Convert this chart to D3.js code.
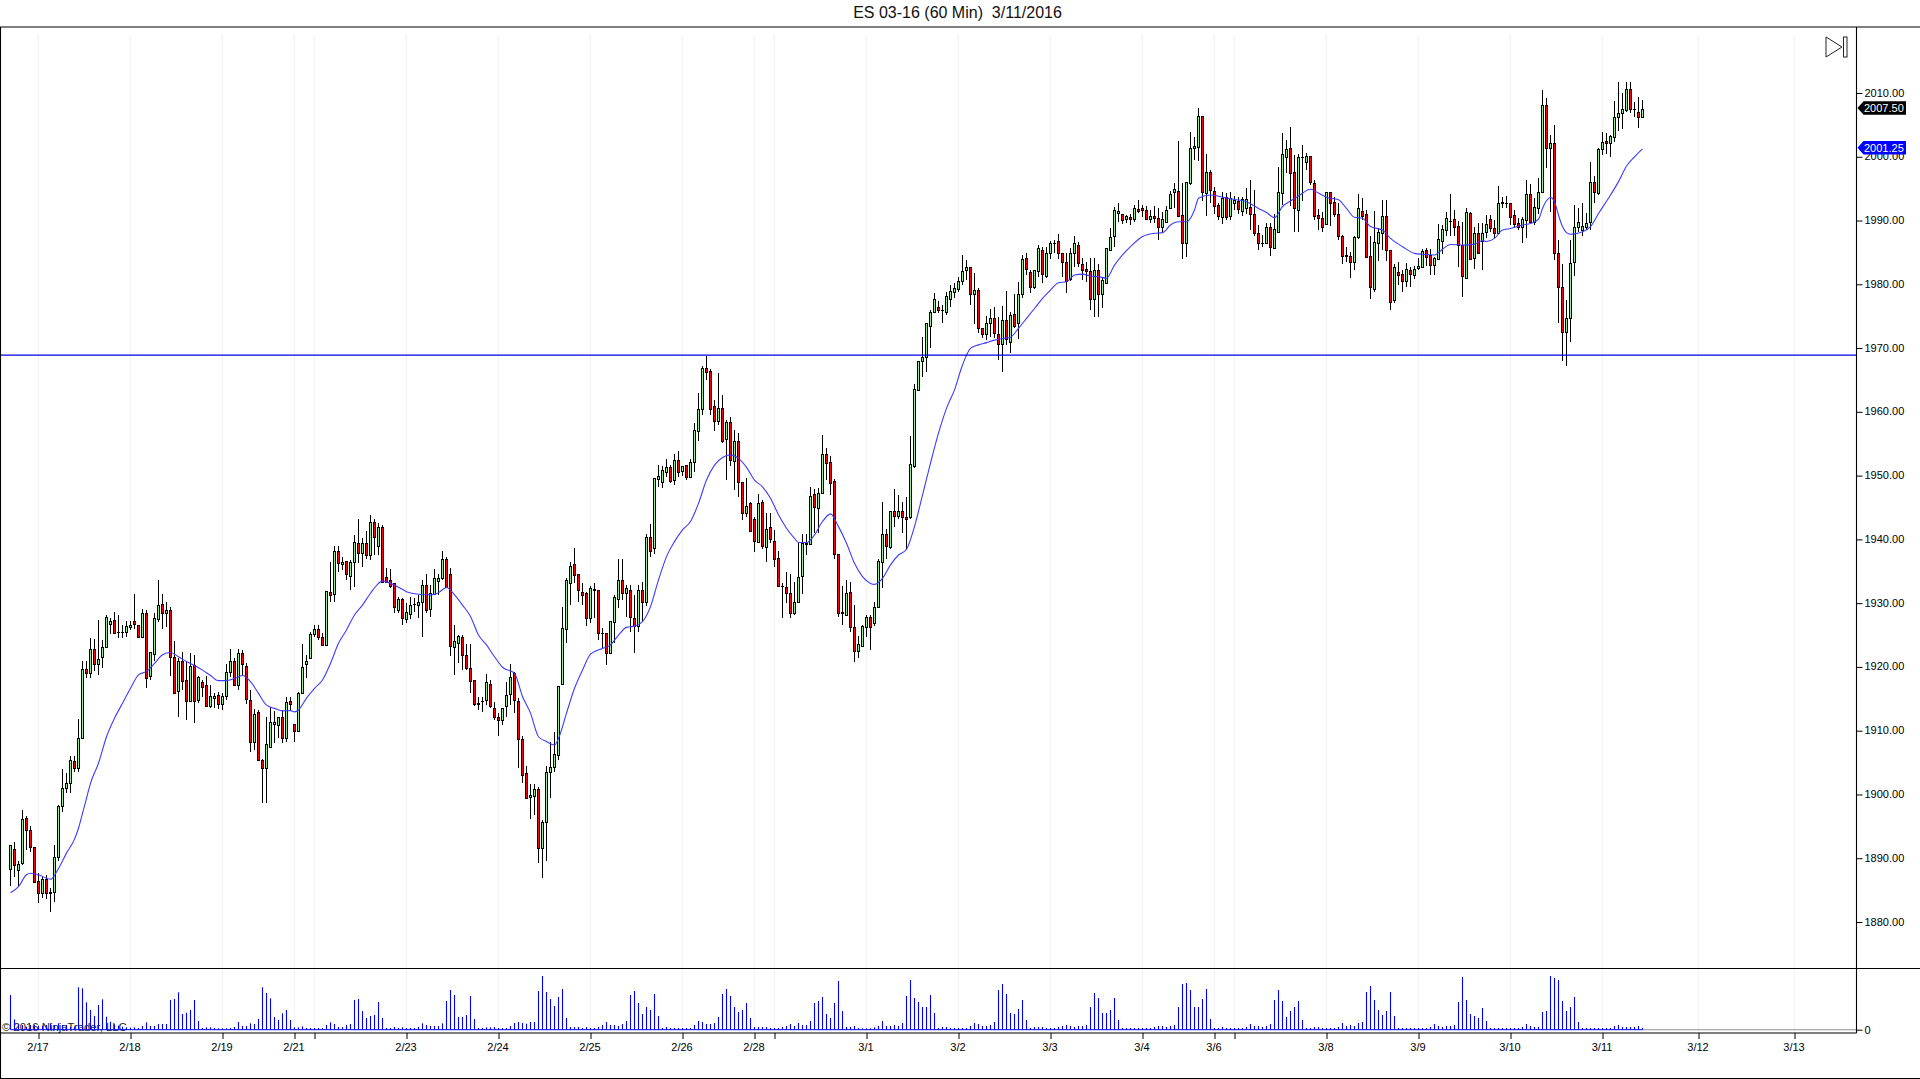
<!DOCTYPE html>
<html><head><meta charset="utf-8">
<script src="https://cdn.jsdelivr.net/npm/d3@7/dist/d3.min.js"></script>
<style>
html,body{margin:0;padding:0;background:#fff;overflow:hidden}
svg{display:block}
text{font-family:"Liberation Sans",Arial,sans-serif;fill:#000}
</style></head><body><div id="c"></div>
<script>
const titleText = "ES 03-16 (60 Min)\u00a0\u00a03/11/2016";
const copyrightText = "\u00a9 2016 NinjaTrader, LLC";
const open = [
1888.25,1891.5,1888.2,1889.2,1896.25,1894.5,1891.8,1886.5,1884.5,1886.8,
1884.5,1884.75,1890.25,1898.25,1901,1901.75,1905.25,1904.1,1908.8,1919.6,
1919.1,1922.75,1920.4,1921.5,1923.1,1926.8,1927.4,1925.5,1925.5,1925.5,
1926.3,1927.2,1926.6,1924.75,1928.4,1918.5,1922.1,1927.5,1929.8,1928.4,
1928.9,1921.5,1916.3,1921,1918,1914.65,1920.3,1914.8,1917.6,1917.1,
1913.8,1915.1,1915.55,1914.15,1915.45,1919.25,1920.9,1917.15,1922.15,1920.15,
1914.8,1908.3,1912.95,1905.4,1904.1,1907.5,1911,1910.9,1912.1,1908.8,
1914.65,1911,1910,1915.85,1920.4,1921.35,1925.15,1925.9,1924.65,1923.45,
1931.8,1931.5,1938.25,1936.15,1936.6,1934.25,1936.4,1939.5,1937.8,1939.5,
1937.55,1942.8,1939,1941.9,1934.05,1933.65,1933.1,1928.95,1930.6,1927.5,
1928.3,1929.8,1929.75,1930.25,1932.85,1929.05,1931.45,1933.5,1933.9,1936.9,
1934.5,1923.2,1923.7,1924.75,1921.85,1919.8,1917.95,1914.4,1914.65,1914.8,
1917.3,1913.5,1912.1,1911.6,1913.8,1915.75,1919.1,1914.65,1908.65,1903.3,
1899.55,1899.75,1900.8,1891.55,1895.75,1903.6,1904.25,1906.2,1917.25,1925.9,
1933.1,1936.1,1934.6,1931.8,1931.55,1927.6,1932.2,1932,1925.3,1925.3,
1922.15,1927.1,1930.65,1933.65,1931.55,1932,1927.6,1926.4,1932.05,1930.25,
1940.3,1938.6,1949.4,1949.05,1950.6,1951.4,1949.3,1952.45,1950.8,1951.65,
1949.85,1952.1,1957.05,1960.4,1966.85,1966.4,1960.9,1958.55,1960.55,1955.75,
1958.35,1952.35,1955.35,1949.05,1944.1,1945.65,1943.15,1939.65,1945.8,1938.85,
1941.9,1939.8,1937.05,1932.7,1932.6,1931.55,1928.5,1930.25,1934.25,1939.25,
1939.25,1947.1,1944.9,1947.35,1953.35,1952.1,1949.15,1937.65,1928.6,1928.15,
1931.8,1926.3,1922.55,1923.35,1926.3,1927.8,1926.85,1929.35,1936.4,1940.8,
1938.75,1944.5,1943.65,1944.5,1943.55,1943.55,1951.5,1963.45,1967.9,1968.6,
1973.5,1975.6,1976.4,1975.95,1975.6,1977.7,1978.85,1979.25,1980.55,1982.25,
1982.75,1978.4,1979.05,1973.1,1972.15,1973.9,1974.65,1972.15,1970.6,1974.4,
1971,1975.35,1973.9,1978.5,1984.1,1982,1979.65,1982.1,1985.3,1981.35,
1984.95,1986.4,1986.85,1984.85,1983.55,1980.8,1984.85,1986.15,1983.2,1982.35,
1982.15,1977.7,1982.25,1978.5,1980.25,1985.3,1987.6,1991.25,1991.1,1990.2,
1990.5,1990.2,1991.8,1992,1991.65,1990.2,1990.7,1990.45,1989,1989.8,
1991.9,1994.4,1994.6,1990.8,1986.55,1995.85,2001.3,2001.5,2006.4,1994.25,
1997.55,1994.65,1992.45,1990.6,1993.75,1990.7,1992.8,1993,1991.55,1991.9,
1992.05,1991.1,1988.1,1986.55,1986.55,1988.95,1985.75,1988.25,1994.25,1999.95,
2001.3,1997.55,1991.65,1999.9,1999.1,2000.1,1995.85,1990.85,1990.35,1989.4,
1994.55,1992.85,1991.1,1987.65,1984.6,1984.45,1983.55,1987.35,1991.55,1991.1,
1984.45,1979.3,1986.55,1988,1990.7,1985.3,1977.55,1981.9,1981.6,1980.55,
1982.25,1981.45,1982.5,1982.75,1985.3,1984.6,1983.05,1983.9,1986.85,1988.5,
1990,1990.2,1989.15,1986.15,1981.05,1991.15,1984.1,1988.1,1986.85,1988.15,
1990.2,1988.9,1988.1,1992.8,1992.75,1992.7,1990.85,1989.55,1989.05,1990.1,
1994.1,1989.8,1992,1994.4,2008.05,2001.3,2002.1,1984.85,1979.6,1972.55,
1974.65,1983.55,1989.05,1988.5,1989,1989.8,1996.1,1994.35,2001.15,2002.45,
2002.1,2003.15,2006.3,2006.8,2007.3,2010.55,2007.45,2007.05,2006.3];
const high = [
1892,1892.5,1889.5,1897.5,1896.7,1895,1891.8,1887.7,1887.1,1887.4,
1885.3,1892,1898.3,1904,1903.3,1906,1906,1911.8,1920.9,1920.9,
1924.6,1924.3,1927.4,1924.2,1928.1,1927.6,1928.6,1928.1,1926.5,1927.25,
1927.25,1931.5,1926.6,1929.1,1928.9,1922.3,1928.5,1933.6,1931.5,1930.2,
1929.35,1924,1921.35,1922.4,1921,1922.25,1921.9,1918.6,1918,1918.5,
1917.2,1915.85,1916,1915.85,1920.5,1922.8,1921.35,1922.75,1922.65,1920.55,
1916.4,1913.35,1913.25,1905.6,1912.1,1913.7,1913.15,1912.2,1913.25,1915.35,
1915.35,1911,1916.1,1923.6,1921.85,1925.5,1926.5,1926.5,1925.3,1931.95,
1936.5,1938.9,1938.9,1937.3,1936.6,1936.75,1940.7,1943.2,1940.2,1941.35,
1943.85,1943.15,1942.5,1942.25,1935.5,1935.35,1933.1,1931,1930.75,1930,
1930.9,1930.75,1931.3,1933.65,1934.6,1932.85,1935.3,1934.6,1938.1,1937.3,
1935.45,1926.5,1925,1925,1923.6,1923.6,1917.95,1915.35,1915.35,1918.9,
1918,1914.55,1912.75,1913.5,1917.7,1920.5,1919.25,1915.1,1909.1,1904.5,
1901.6,1901.65,1901.2,1896,1904.5,1908.3,1909.85,1917.05,1929.35,1933.9,
1936.5,1938.6,1934.6,1933.1,1931.8,1932.75,1933.1,1932,1926.05,1925.3,
1927.25,1931.3,1936.9,1936.9,1932.85,1932.85,1931.3,1932.85,1933.35,1940.85,
1942.4,1949.6,1951.65,1951.5,1952.6,1951.65,1953.35,1953.85,1951.55,1951.65,
1952.55,1958.2,1962.9,1967.2,1968.8,1966.7,1961.85,1966.05,1962.65,1958.7,
1959.15,1957.15,1956.65,1949.05,1949.6,1945.9,1943.55,1947.1,1946.2,1944.1,
1944.1,1941.5,1938.2,1933.2,1934.85,1934.6,1933.35,1939.4,1940.85,1940.85,
1948.15,1947.9,1948.1,1956.35,1954.3,1953,1949.45,1937.65,1932.7,1933.65,
1933.3,1929.75,1924.85,1926.6,1928.15,1928.15,1930.15,1936.9,1945.8,1941.6,
1944.5,1947.9,1947,1945.8,1946.6,1956.2,1964.3,1967.95,1971.7,1973.9,
1976,1978.6,1977.4,1976.75,1978.85,1979.9,1980.15,1981.2,1984.6,1983.8,
1982.75,1981.7,1979.35,1973.1,1975,1976.1,1976.4,1974.9,1976.6,1978.95,
1975.7,1978.5,1980.4,1984.6,1984.85,1982.25,1982.25,1986.15,1985.8,1985.9,
1986.85,1987,1987.9,1984.85,1984.85,1985.65,1987.5,1986.7,1984.1,1983.55,
1984.1,1984.1,1983.2,1981.2,1985.65,1988.9,1992.05,1992.7,1991.1,1990.85,
1991.1,1992.45,1993.2,1992.45,1992.2,1991.65,1992.2,1991.9,1991.4,1992.3,
1994.6,1995.85,2002.5,1995.85,1996.1,2003.9,2003.15,2007.6,2006.4,2000.5,
1997.9,1995.3,1992.7,1994.55,1994.3,1994.55,1993.85,1993.75,1993.75,1995.05,
1996.35,1994.8,1989.3,1987.7,1989.55,1989.65,1991.1,1998.35,2003.8,2002.65,
2004.6,2000.3,2000.4,2001.85,2000.55,2000.1,1996.35,1991.75,1991.4,1994.55,
1994.55,1993.75,1992.7,1987.75,1985.9,1985.1,1987.5,1994.1,1993.5,1991.65,
1987.5,1991.55,1988.75,1993.2,1993.2,1985.4,1983.2,1983.55,1982.25,1983.3,
1982.75,1982.85,1984.2,1985.5,1985.65,1985.5,1984.35,1989.4,1989.3,1991.4,
1994.15,1991.65,1989.95,1989.8,1992,1991.4,1989.05,1989.55,1989.55,1990.85,
1990.85,1990.1,1995.4,1993.65,1993.85,1992.8,1991.65,1990.35,1990.6,1996.35,
1995.65,1993.5,1996.6,2010.5,2009.15,2003.4,2005,1986.95,1983.2,1977.6,
1986.95,1992.45,1991.9,1992.7,1991.25,1999.1,1997,2001.3,2003.95,2003.65,
2003.4,2008.8,2011.65,2009.95,2011.65,2011.65,2008.65,2009.3,2008.9];
const low = [
1885.7,1887,1885.5,1889,1891.3,1891,1886.3,1883,1883.7,1883.6,
1881.5,1883.2,1889.5,1897.3,1900.3,1900.3,1903.6,1903.6,1908.8,1918.3,
1918.3,1919.3,1918.75,1919.9,1923,1925.2,1925.3,1924.6,1924.6,1924.75,
1925.8,1926,1924.75,1924.75,1916.75,1918,1921,1927.1,1926,1926.2,
1918.5,1915.9,1912.2,1916.4,1911.6,1914.65,1911.25,1914.3,1915.35,1913.8,
1913.5,1913.5,1913.35,1913.25,1914.8,1918.45,1917.15,1916.4,1918.5,1914.2,
1906.6,1907,1905.4,1898.7,1898.6,1907.5,1908,1908.8,1908,1908.3,
1913.25,1908.3,1909.75,1915.85,1918.2,1921.2,1924.75,1924.25,1923.35,1923.35,
1930.25,1930.25,1934.95,1935.2,1933.6,1932,1932.5,1936.25,1935.7,1937,
1936.75,1937.55,1937.55,1933.35,1933.1,1932.3,1928.4,1928.4,1926.5,1926.85,
1927.5,1928.65,1927.6,1924.65,1928.4,1927.8,1931.3,1931.3,1933.65,1932.3,
1921.7,1918.75,1920.55,1919.5,1919.5,1915.85,1913.8,1913.25,1913,1914,
1913.5,1911.6,1909.2,1910.9,1912.2,1914,1912.7,1904.1,1901.75,1899.5,
1896.1,1896.8,1889.3,1886.85,1889.5,1899.5,1903.6,1905.4,1917.25,1923.7,
1929.7,1933.1,1930.25,1929.7,1926.4,1926.85,1927.6,1924.25,1923,1920.3,
1922,1923.7,1929.3,1930.5,1927.9,1925.5,1922.15,1925.5,1927.1,1929.6,
1937.3,1937.7,1948.15,1948.1,1949.85,1948.8,1948.5,1949.85,1950,1949.3,
1949.55,1950.6,1955.45,1959.5,1965,1959.5,1957.05,1957.95,1955.05,1949.3,
1951.5,1947.75,1946.6,1943.05,1943.55,1941.35,1938.05,1939.4,1938.45,1936.5,
1939.4,1935.7,1932.6,1927.7,1930,1927.7,1928.15,1930.25,1931.4,1937.55,
1939.25,1941,1941.05,1947.1,1949.3,1947,1936.9,1927.8,1926.5,1928,
1925.5,1920.8,1921.35,1923.2,1924.75,1922.65,1926.45,1929.2,1932.35,1937,
1938.45,1942,1943.15,1941.05,1938.35,1943.2,1951.25,1963.3,1965.4,1966.3,
1970.05,1975.45,1975.45,1974,1975.2,1976.5,1977.8,1978.85,1979.9,1980.7,
1976.75,1973.8,1972.3,1971.5,1971.25,1971.8,1971.5,1968.1,1966.3,1970.5,
1969.3,1973.1,1971.4,1977.8,1981.5,1978.6,1979.25,1981.2,1980.25,1980.95,
1983.9,1984.85,1983.9,1981.2,1978.6,1980.55,1982.75,1982.75,1980.65,1980.4,
1976,1974.8,1974.8,1976.35,1980.25,1985.3,1985.8,1989.8,1989.45,1989.55,
1989.3,1989.8,1991.2,1990.6,1990.05,1989.55,1989.55,1986.95,1988,1989.55,
1991.75,1991.9,1990.5,1984,1984.35,1995.6,1999.5,1999.4,1993,1990.7,
1992.7,1991.1,1990.1,1989.45,1990.1,1990.1,1991.65,1991.1,1990.7,1991,
1988.5,1987.65,1985.3,1985.9,1986.3,1984.5,1985.65,1988.25,1992.45,1997.4,
1992.2,1988.25,1988.25,1993,1998,1995.6,1990.1,1988.5,1988.25,1989.3,
1989.15,1990.5,1987,1983.15,1983.55,1980.95,1982.25,1987.05,1990.1,1984.35,
1977.65,1978.85,1983.7,1985.4,1983.7,1976,1977,1979.9,1978.85,1979.65,
1979.65,1980.8,1982.25,1982.75,1982.9,1981.45,1981.45,1983.8,1984.75,1987.55,
1987.6,1987.55,1982.75,1978.05,1980.95,1983.8,1982.35,1984.85,1982.25,1987.2,
1988.25,1987.2,1988.1,1991.9,1991.9,1989.3,1988.75,1988.5,1986.4,1987.2,
1989.55,1989.3,1991.1,1994.25,1998.2,1991.3,1983.8,1973.9,1968,1967.25,
1971,1981.35,1988.25,1987.55,1988.5,1988.5,1992.7,1994,2000.25,2000.5,
1999.95,2002.35,2004.1,2004.3,2007.05,2006.8,2006.2,2004.55,2006.2];
const close = [
1892,1889,1889.1,1896.1,1894.5,1891.8,1886.3,1884.5,1886.8,1884.5,
1884.75,1890.25,1898.25,1901,1901.75,1905.4,1904.1,1908.8,1919.6,1919.1,
1922.75,1920.4,1921.3,1923.1,1927.8,1927.25,1925.3,1925.5,1925.5,1926.4,
1926.6,1926.75,1924.75,1928.4,1918.3,1922.3,1927.6,1929.65,1928.5,1928.9,
1921.5,1915.9,1921,1917.85,1914.6,1920.15,1914.6,1918.35,1916.8,1913.8,
1915.45,1915.45,1914.15,1915.45,1919.25,1920.9,1917.15,1922.25,1920.4,1915,
1908.3,1912.6,1905.4,1904.1,1907.9,1911.3,1911.3,1912.2,1908.8,1914.55,
1914.2,1910,1915.85,1920,1921,1925.1,1925.9,1924.75,1923.45,1931.95,
1931.3,1938.2,1936.35,1936.5,1934.5,1936.4,1939.55,1937.8,1939.4,1937.55,
1942.8,1940.45,1941.9,1933.35,1933.25,1932.7,1929.35,1930.6,1927.6,1928.55,
1929.65,1929.8,1930.2,1932.85,1928.95,1931.55,1933.9,1933.9,1937,1932.6,
1923.35,1924,1924.85,1921.8,1919.8,1917.85,1914.2,1914.2,1914.65,1917.6,
1913.8,1912.1,1911.6,1913.5,1915.6,1918.35,1914.8,1908.65,1903,1899.5,
1899.9,1900.8,1891.55,1895.65,1903.6,1904.25,1906.3,1917.05,1926.05,1933.65,
1935.85,1934.4,1932,1931.3,1927.6,1932.3,1932,1925.3,1925.3,1922.25,
1927.25,1930.9,1933.65,1931.55,1932.3,1927.9,1926.4,1932.1,1930.25,1940.3,
1938.25,1949.6,1949.95,1950.9,1951.3,1949.2,1952.45,1950.6,1951.55,1949.85,
1952.1,1957.15,1960.4,1966.85,1966.3,1960.45,1958.55,1960.55,1955.5,1958.35,
1952.45,1955.35,1949.05,1944.1,1945.3,1941.35,1939.8,1945.65,1939,1941.6,
1940.05,1936.9,1932.7,1932.7,1931.55,1928.4,1930.25,1934.05,1939.4,1939.5,
1946.85,1945,1947.35,1953.35,1952.05,1948.8,1937.65,1928.4,1928.4,1931.55,
1926.3,1922.55,1923.55,1926.45,1927.8,1926.3,1929.35,1936.6,1940.8,1939,
1944.5,1943.65,1944.5,1943.55,1943.25,1951.75,1963.55,1967.95,1968.6,1973.9,
1975.6,1977.65,1975.9,1975.95,1978.15,1978.95,1979.35,1980.55,1982.15,1982.75,
1978.4,1979.1,1973.1,1972.15,1973.9,1974.65,1972.3,1970.6,1974.4,1971.4,
1975.2,1973.5,1978.5,1983.9,1982.35,1979.65,1982.25,1985.65,1981.6,1984.95,
1986.55,1986.55,1984.85,1983.55,1980.55,1984.85,1986.4,1983.3,1982.25,1982.15,
1977.7,1982.25,1978.5,1980.65,1985.65,1987.35,1991.65,1991.55,1990.05,1990.7,
1990.2,1991.95,1991.55,1991.65,1990.25,1990.7,1990.35,1988.95,1990.2,1991.65,
1994.15,1994.9,1990.7,1986.55,1996.1,2001.3,2001.7,2006.4,1994.4,1997.55,
1994.8,1992.3,1990.75,1993.6,1990.6,1993.6,1993.2,1991.75,1993.35,1993.35,
1991.1,1988.1,1986.4,1986.55,1988.95,1985.8,1988.6,1994.4,2000.4,2001.15,
1997.5,1991.9,1999.9,1999.9,2000.1,1996.1,1990.7,1990.35,1989.05,1994.4,
1992.8,1991.1,1987.65,1984.5,1984.4,1983.55,1987.35,1991.9,1990.7,1984.35,
1979.65,1986.6,1988.15,1990.7,1985.3,1977.3,1982.75,1981.5,1980.55,1982.35,
1981.55,1982.35,1982.85,1985.15,1984.35,1983.05,1984.1,1987.05,1988.6,1990.35,
1989.85,1989.05,1986.15,1981.35,1991.4,1983.9,1988.1,1984.95,1988.1,1989.4,
1988.9,1988.1,1992.7,1992.95,1992.75,1990.6,1989.4,1989.05,1990.2,1994.1,
1989.8,1992.05,1994.5,2008.05,2001.3,2002.1,1984.85,1979.6,1972.55,1974.65,
1983.3,1989.05,1989.8,1989.15,1989.55,1996.1,1994.5,2001.15,2002.35,2002.1,
2003.25,2006.3,2006.8,2007.45,2010.55,2007.5,2007.45,2006.3,2007.5];
const volume = [
104,31,16,14,9,14,14,12,12,14,
19,14,19,14,14,9,9,127,124,82,
59,41,74,91,39,24,16,12,9,7,
6,7,5,11,22,11,11,17,17,17,
89,92,112,47,51,59,89,26,5,7,
7,5,4,4,4,5,8,23,11,11,
19,17,32,127,110,94,38,29,49,59,
29,7,7,10,5,5,5,5,5,14,
22,17,8,8,14,17,89,92,56,35,
41,44,83,35,5,5,8,5,7,5,
5,5,8,19,14,11,11,11,19,86,
119,104,38,38,44,101,32,5,5,7,
7,8,5,5,5,11,20,23,20,18,
23,23,116,161,113,92,71,98,122,35,
8,8,8,5,8,5,5,8,14,23,
14,14,11,17,26,104,116,80,47,68,
59,107,41,5,8,5,5,5,5,5,
5,14,26,23,17,17,20,38,107,122,
101,68,53,59,80,35,8,8,8,8,
5,5,5,8,11,17,11,20,14,14,
26,80,86,98,47,35,80,146,56,8,
8,11,5,4,4,4,7,11,26,11,
11,14,11,20,101,149,95,83,68,68,
104,50,5,8,8,5,5,5,5,5,
11,20,17,11,11,14,23,119,137,107,
50,47,62,89,29,5,8,8,8,5,
5,5,8,11,14,11,8,11,11,14,
68,110,95,50,50,59,95,29,5,5,
5,5,5,5,5,5,8,11,11,8,
11,14,68,137,140,119,68,68,92,122,
32,5,5,8,5,5,5,5,5,8,
17,11,11,8,11,17,89,119,86,38,
56,68,86,29,5,5,8,8,5,5,
5,5,8,20,11,14,11,20,23,113,
131,89,59,44,56,113,41,5,5,5,
5,5,5,5,5,8,17,11,8,11,
11,14,83,158,89,47,41,35,65,26,
5,5,5,5,5,5,5,5,8,17,
11,8,8,53,56,161,155,149,86,56,
68,98,23,5,5,5,5,5,5,5,
5,11,14,8,8,8,8,11,5];
const avgBar = [0,2,4,5,7,10,12,14,16,17,18,19,20,22,24,26,28,30,32,34,36,38,40,42,44,46,48,50,52,54,56,58,60,62,64,66,68,70,71,72,74,76,78,80,82,84,86,88,90,92,93,95,97,99,102,105,107,109,111,113,115,117,119,121,123,126,128,130,132,134,136,137,139,141,143,145,148,150,152,154,156,158,160,162,164,166,168,170,172,174,176,178,180,182,184,186,188,190,192,194,196,197,199,201,203,205,207,209,211,213,215,216,218,220,222,224,226,228,230,232,234,236,238,240,242,244,246,248,250,252,254,256,258,260,262,264,266,268,270,272,274,276,278,280,283,286,288,290,292,294,296,297,300,303,306,309,312,314,316,318,320,322,325,327,329,332,334,336,338,340,343,345,348,351,353,356,358,360,363,366,368,369,371,373,375,378,380,382,383,384,385,386,387,388,389,390,391,393,395,397,400,402,404,406,408];
const avgVal = [1884.6,1885.55,1887.4,1887.65,1887.4,1886.7,1888.4,1890.8,1893,1894.7,1897.05,1899.4,1901.75,1904.9,1909.05,1911.95,1914.3,1916.65,1918.75,1919.3,1920.55,1921.9,1922.25,1921.6,1920.85,1920.2,1919.5,1918.65,1917.85,1917.85,1918.2,1918.65,1917.7,1915.85,1914,1913.5,1913.1,1913.15,1912.95,1913.25,1915.1,1916.65,1917.95,1920.55,1923.7,1925.8,1928.15,1929.7,1931.55,1933.1,1933.5,1933.1,1932.5,1931.8,1931.4,1931.3,1931.65,1932.45,1931.3,1929.7,1927.9,1925,1923.45,1921.6,1919.95,1919,1915.35,1912.75,1909.05,1908.3,1907.75,1908.8,1912.75,1916.65,1919.5,1922,1922.9,1923.45,1925,1926.2,1926.4,1927.1,1929.45,1933.65,1937.3,1939.65,1941.5,1942.8,1945.65,1949.3,1951.65,1952.85,1953.25,1952.7,1951.3,1949.3,1948.25,1946.45,1943.85,1941.75,1940.15,1939.5,1939.5,1940.7,1942.8,1944,1942,1939.4,1936.25,1934.15,1933.1,1932.95,1933.9,1936,1937.55,1938.45,1942,1946.95,1951.95,1956.65,1960.55,1963.45,1967.35,1969.95,1970.5,1970.85,1971.25,1971.5,1971.7,1973.1,1974.65,1976.2,1977.8,1979.1,1980.25,1980.4,1981.45,1981.6,1981.3,1981.2,1980.95,1983,1984.6,1985.9,1987.5,1988,1988.1,1989.3,1989.8,1989.8,1991.65,1993.5,1994,1993.65,1993.3,1992.95,1991.9,1991.25,1990.45,1992.2,1993.05,1993.85,1994.9,1994.3,1993.65,1993.25,1991.9,1990.5,1990.35,1989.05,1988.5,1987.2,1985.9,1984.85,1984.7,1984.6,1985.5,1986.25,1986.15,1986.3,1986.85,1986.7,1987.2,1988.5,1988.75,1989.3,1989.55,1990.2,1991.9,1993.1,1993.6,1992.95,1990.85,1989.05,1988.1,1987.85,1987.9,1988.25,1989.05,1991.1,1994,1996.1,1998.55,2000,2001.25];
const levelLine = 1968.9;
const priceTicks = [1880,1890,1900,1910,1920,1930,1940,1950,1960,1970,1980,1990,2000,2010];
const timeTickBars = [7,30,53,71,76,99,122,145,168,186,191,214,237,260,283,301,306,329,352,375,398,422,446];
const timeTickLabels = ["2/17","2/18","2/19","2/21","","2/23","2/24","2/25","2/26","2/28","","3/1","3/2","3/3","3/4","3/6","","3/8","3/9","3/10","3/11","3/12","3/13"];
const lastPrice = 2007.5, lastAvg = 2001.25;

const W=1920,H=1079,axisX=1856.5;
const svg=d3.select("#c").append("svg").attr("width",W).attr("height",H);
const x=d3.scaleLinear().domain([0,408]).range([10.5,1642.5]);
const y=d3.scaleLinear().domain([1872.74,2020.19]).range([968.3,28]);
const yv=d3.scaleLinear().domain([0,184]).range([1029.7,968.3]);
const row=s=>Math.round(s)+0.5;

// grid
svg.append("g").selectAll("line").data(timeTickBars).join("line")
 .attr("x1",d=>x(d)).attr("x2",d=>x(d)).attr("y1",35).attr("y2",1033)
 .attr("stroke","#f3f3f3").attr("stroke-width",1.3);

// zero line of the volume panel
svg.append("line").attr("x1",x(408)).attr("x2",axisX).attr("y1",yv(0)).attr("y2",yv(0)).attr("stroke","#a8a8a8").attr("stroke-width",1.3);

// copyright beneath the volume bars
svg.append("text").attr("x",2).attr("y",1031).attr("font-size",11.3).style("fill","#222").text(copyrightText);

// volume
svg.append("line").attr("x1",x(0)).attr("x2",x(408)).attr("y1",yv(0)).attr("y2",yv(0)).attr("stroke","#0000ff").attr("stroke-width",1);
svg.append("g").selectAll("line").data(volume).join("line")
 .attr("x1",(d,i)=>x(i)).attr("x2",(d,i)=>x(i)).attr("y1",yv(0)).attr("y2",d=>yv(d))
 .attr("stroke","#0000ff").attr("stroke-width",1.1);

// candles
const bars=d3.range(open.length);
const g=svg.append("g");
g.append("g").selectAll("line").data(bars).join("line")
 .attr("x1",i=>x(i)).attr("x2",i=>x(i)).attr("y1",i=>y(high[i])).attr("y2",i=>y(low[i]))
 .attr("stroke","#000").attr("stroke-width",1).attr("shape-rendering","crispEdges");
g.append("g").selectAll("rect").data(bars).join("rect")
 .attr("x",i=>x(i)-1).attr("width",2)
 .attr("y",i=>row(y(Math.max(open[i],close[i]))))
 .attr("height",i=>Math.max(0.01,row(y(Math.min(open[i],close[i])))-row(y(Math.max(open[i],close[i])))))
 .attr("fill",i=>close[i]>=open[i]?"#90ee90":"#ff0000")
 .attr("stroke","#000").attr("stroke-width",1).attr("shape-rendering","crispEdges");

// average line and level line
svg.append("path").datum(avgBar).attr("fill","none").attr("stroke","#3c3cff").attr("stroke-width",1.1)
 .attr("d",d3.line().x(b=>x(b)).y((b,k)=>y(avgVal[k])).curve(d3.curveMonotoneX));
svg.append("line").attr("x1",0).attr("x2",axisX).attr("y1",y(levelLine)).attr("y2",y(levelLine)).attr("stroke","#0000e6").attr("stroke-width",1.2);

// frame
const frame=[[0,27,W,27],[0,968.5,W,968.5],[0,1033,axisX,1033],[0,1078.5,W,1078.5],[0.5,27,0.5,1079],[axisX,27,axisX,1033]];
svg.append("g").selectAll("line").data(frame).join("line")
 .attr("x1",d=>d[0]).attr("y1",d=>d[1]).attr("x2",d=>d[2]).attr("y2",d=>d[3])
 .attr("stroke","#000").attr("stroke-width",1.1);

// axes
const pAxis=svg.append("g").attr("transform",`translate(${axisX},0)`)
 .call(d3.axisRight(y).tickValues(priceTicks).tickSize(6).tickPadding(2).tickFormat(d3.format(".2f")));
const vAxis=svg.append("g").attr("transform",`translate(${axisX},0)`)
 .call(d3.axisRight(yv).tickValues([0]).tickSize(6).tickPadding(2).tickFormat(d3.format("d")));
const tAxis=svg.append("g").attr("transform","translate(0,1033)")
 .call(d3.axisBottom(x).tickValues(timeTickBars).tickSize(6).tickPadding(4).tickFormat((d,i)=>timeTickLabels[i]));
[pAxis,vAxis,tAxis].forEach(a=>{a.select(".domain").remove();
 a.selectAll("text").attr("font-family",null).style("font-size","11px").style("font-family",'"Liberation Sans",Arial,sans-serif');
 a.selectAll("line").attr("stroke","#000");});
tAxis.selectAll("text").attr("dx",-1);
pAxis.selectAll("text").attr("y",-0.5);

// title
svg.append("text").attr("x",957.5).attr("y",18).attr("text-anchor","middle").attr("font-size",16).style("fill","#111").text(titleText);

// price badges
[[lastPrice,"#000"],[lastAvg,"#0000ff"]].forEach(([v,c])=>{
 const cy=y(v)-1;
 svg.append("path").attr("d",`M1857.5 ${cy}L1863.5 ${cy-6.7}H1906V${cy+6.7}H1863.5Z`).attr("fill",c);
 svg.append("text").attr("x",1864).attr("y",cy+4).attr("font-size",11).style("fill","#fff").text(d3.format(".2f")(v));
});

// end-of-data icon
svg.append("path").attr("d","M1826 37L1842 47L1826 57Z").attr("fill","none").attr("stroke","#222").attr("stroke-width",1);
svg.append("rect").attr("x",1843.5).attr("y",37).attr("width",3.5).attr("height",20).attr("fill","none").attr("stroke","#222").attr("stroke-width",1);
</script></body></html>
